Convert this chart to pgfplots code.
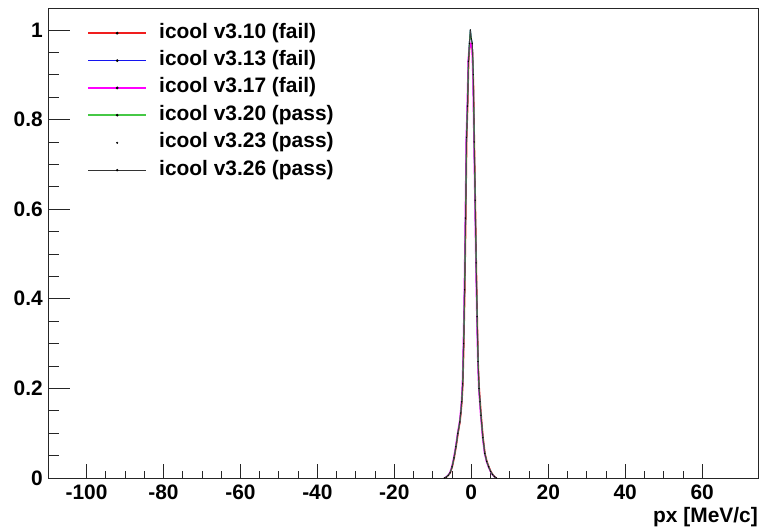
\documentclass[border=0pt]{standalone}
\usepackage{pgfplots}
\pgfplotsset{compat=1.18}
\usepackage{pgfplotstable}
\usepackage{fontspec}
\setmainfont{Liberation Sans}
\definecolor{rootgreen}{RGB}{70,200,70}
\definecolor{rootred}{RGB}{240,30,30}
\definecolor{rootblue}{RGB}{20,20,240}
\definecolor{rootmag}{RGB}{255,0,255}
\pgfplotstableread{
x y
-7.0 0
-6.5 0.002
-6.0 0.006
-5.5 0.012
-5.0 0.025
-4.5 0.045
-4.0 0.07
-3.5 0.10
-3.0 0.125
-2.75 0.145
-2.5 0.17
-2.25 0.21
-2.0 0.30
-1.75 0.42
-1.5 0.58
-1.25 0.76
-1.0 0.83
-0.75 0.93
-0.5 0.97
-0.25 1.0
0.0 0.98
0.25 0.97
0.5 0.90
0.75 0.75
1.0 0.62
1.25 0.48
1.5 0.36
1.75 0.26
2.0 0.20
2.25 0.17
2.5 0.14
3.0 0.09
3.5 0.055
4.0 0.037
4.5 0.025
5.0 0.015
5.5 0.008
6.0 0.003
6.5 0.0
}\passdata
\pgfplotstableread{
x y
-6.9 0
-6.4 0.002
-5.9 0.006
-5.4 0.012
-4.9 0.025
-4.4 0.045
-3.9 0.07
-3.4 0.10
-2.9 0.125
-2.65 0.145
-2.4 0.17
-2.15 0.21
-1.9 0.30
-1.65 0.42
-1.4 0.58
-1.15 0.76
-0.9 0.83
-0.65 0.93
-0.4 0.96
-0.15 0.97
0.1 0.97
0.35 0.95
0.6 0.88
0.85 0.74
1.1 0.61
1.35 0.47
1.6 0.35
1.85 0.25
2.1 0.20
2.35 0.17
2.6 0.14
3.1 0.09
3.6 0.055
4.1 0.037
4.6 0.025
5.1 0.015
5.6 0.008
6.1 0.003
6.6 0.0
}\reddata
\pgfplotstableread{
x y
-7.1 0
-6.6 0.002
-6.1 0.006
-5.6 0.012
-5.1 0.025
-4.6 0.045
-4.1 0.07
-3.6 0.10
-3.1 0.125
-2.85 0.145
-2.6 0.17
-2.35 0.21
-2.1 0.30
-1.85 0.42
-1.6 0.58
-1.35 0.76
-1.1 0.83
-0.85 0.93
-0.6 0.96
-0.35 0.96
-0.1 0.97
0.15 0.96
0.4 0.89
0.65 0.75
0.9 0.62
1.15 0.48
1.4 0.36
1.65 0.26
1.9 0.20
2.15 0.17
2.4 0.14
2.9 0.09
3.4 0.055
3.9 0.037
4.4 0.025
4.9 0.015
5.4 0.008
5.9 0.003
6.4 0.0
}\magdata
\begin{document}
\begin{tikzpicture}
\useasboundingbox (-48bp,-51bp) rectangle (711bp,478bp);
\begin{axis}[
  scale only axis, width=710bp, height=470bp,
  xmin=-110, xmax=74.5, ymin=0, ymax=1.049,
  axis line style={line width=0.8bp, black!85},
  xtick={-100,-80,-60,-40,-20,0,20,40,60},
  xticklabels={-100,-80,-60,-40,-20,0,20,40,60},
  minor x tick num=3,
  ytick={0,0.2,0.4,0.6,0.8,1},
  yticklabels={0,0.2,0.4,0.6,0.8,1},
  minor y tick num=3,
  tick align=inside, xtick pos=bottom, ytick pos=left,
  xtick style={black!85, line width=0.8bp, /pgfplots/major tick length=14bp, /pgfplots/minor tick length=7bp},
  ytick style={black!85, line width=0.8bp, /pgfplots/major tick length=22bp, /pgfplots/minor tick length=11bp},
  ticklabel style={font=\bfseries\fontsize{21}{21}\selectfont, inner sep=0pt},
  xticklabel style={anchor=north, yshift=-7bp},
  yticklabel style={anchor=east, xshift=-5bp},
  xlabel={px [MeV/c]},
  xlabel style={at={(rel axis cs:1,0)}, anchor=north east, yshift=-29bp, font=\bfseries\fontsize{21}{21}\selectfont, inner sep=0pt},
  legend style={at={(rel axis cs:0,1)}, anchor=north west, xshift=39bp, yshift=-15bp,
    draw=none, fill=none, inner sep=0pt, row sep=7.4bp,
    font=\bfseries\fontsize{21}{21}\selectfont,
    nodes={inner sep=0pt, text height=15bp, text depth=5bp},
    /tikz/every odd column/.append style={column sep=12bp}},
  legend cell align=left,
]
\addplot[rootred, line width=1.2bp, legend image code/.code={\draw[rootred, line width=1.7bp] (0bp,0bp) -- (58bp,0bp); \fill[black] (29bp,0bp) circle (0.7bp);}] table[x=x,y=y] {\reddata};
\addlegendentry{icool v3.10 (fail)}
\addplot[rootblue, line width=1.1bp, legend image code/.code={\draw[rootblue, line width=1.7bp] (0bp,0bp) -- (58bp,0bp); \fill[black] (29bp,0bp) circle (0.7bp);}] table[x=x,y=y] {\passdata};
\addlegendentry{icool v3.13 (fail)}
\addplot[rootmag, line width=1.2bp, legend image code/.code={\draw[rootmag, line width=1.7bp] (0bp,0bp) -- (58bp,0bp); \fill[black] (29bp,0bp) circle (0.7bp);}] table[x=x,y=y] {\magdata};
\addlegendentry{icool v3.17 (fail)}
\addplot[rootgreen, line width=1.1bp, legend image code/.code={\draw[rootgreen, line width=2bp] (0bp,0.4bp) -- (58bp,0.4bp); \fill[black] (29bp,0.2bp) circle (0.7bp);}] table[x=x,y=y] {\passdata};
\addlegendentry{icool v3.20 (pass)}
\addplot[black, only marks, mark=*, mark size=0.4bp, legend image code/.code={\fill[black] (29bp,0bp) circle (0.8bp);}] table[x=x,y=y] {\passdata};
\addlegendentry{icool v3.23 (pass)}
\addplot[black!75, line width=0.9bp, legend image code/.code={\draw[black!80, line width=1.3bp] (0bp,0bp) -- (58bp,0bp); \fill[black] (29bp,0bp) circle (0.7bp);}] table[x=x,y=y] {\passdata};
\addlegendentry{icool v3.26 (pass)}
\end{axis}
\end{tikzpicture}
\end{document}
